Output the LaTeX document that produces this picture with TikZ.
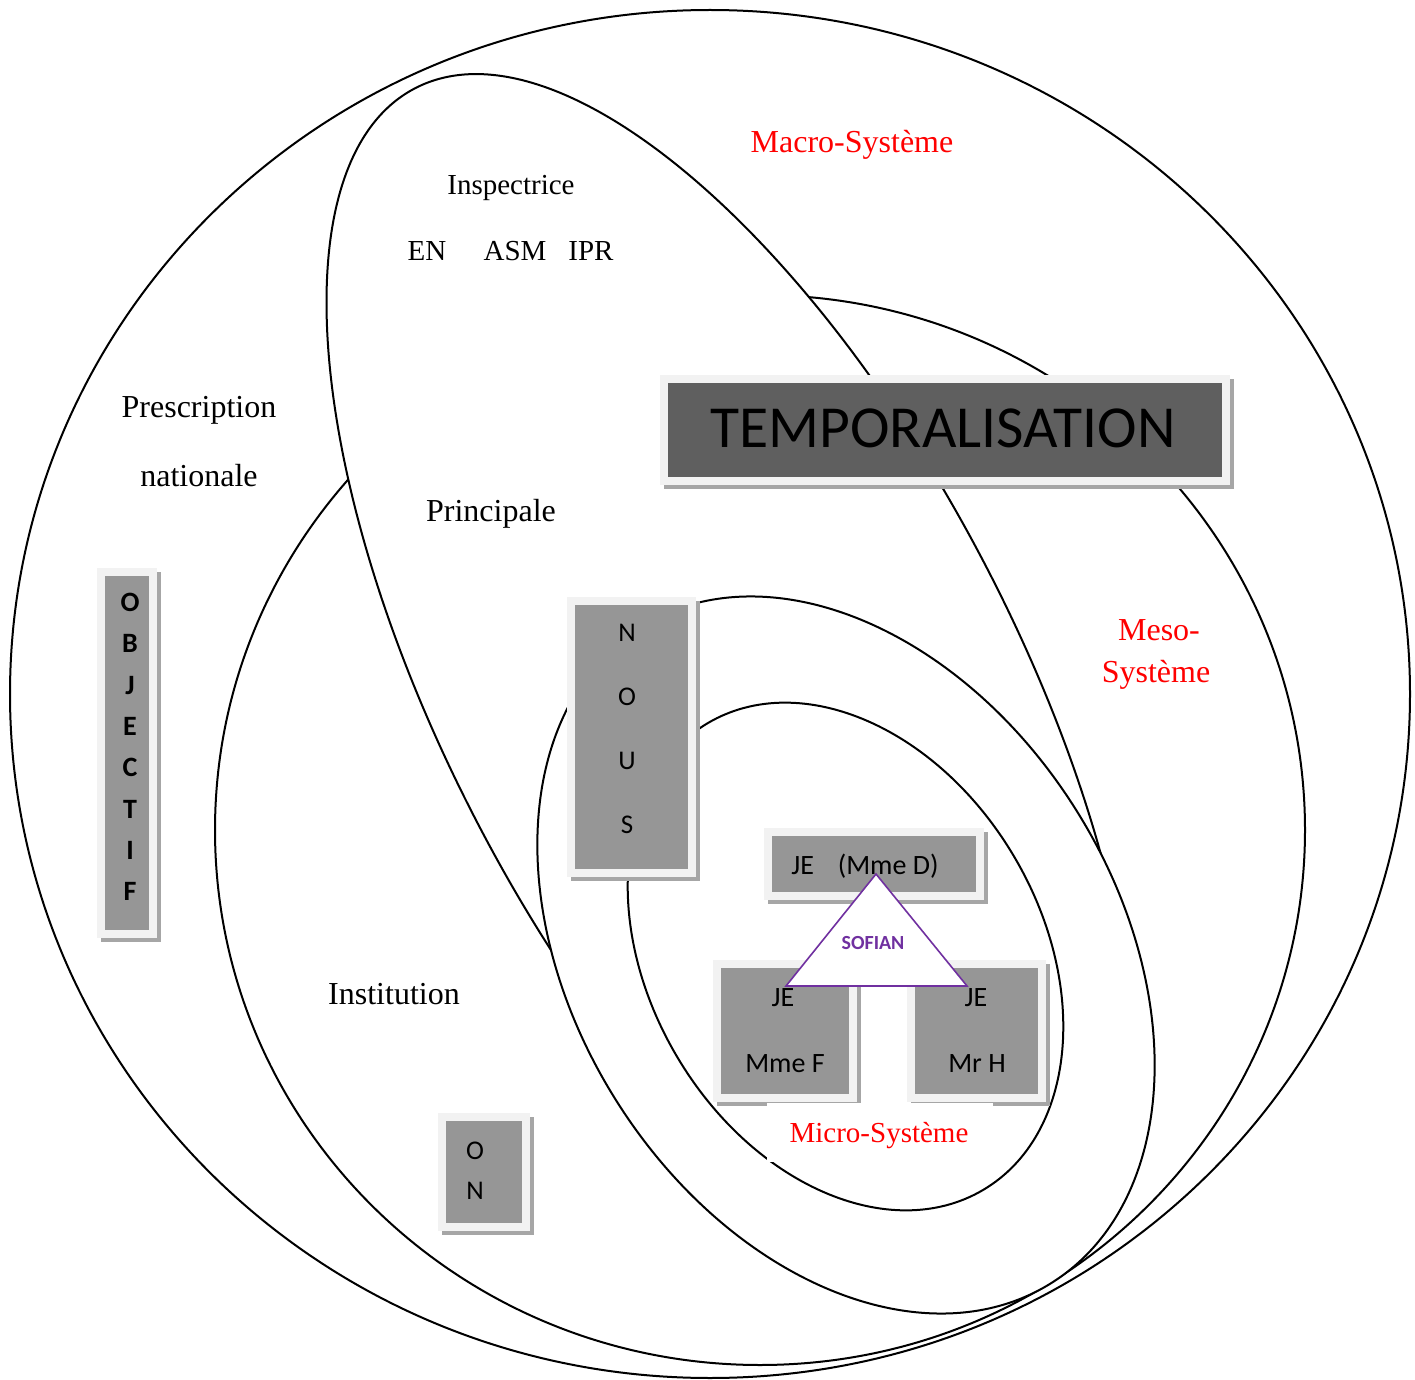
\documentclass[tikz,border=0pt]{standalone}
\usepackage{fontspec}
\setmainfont{Liberation Serif}
\newfontfamily\calfont{Carlito}
\definecolor{boxgray}{HTML}{969696}
\definecolor{darkbox}{HTML}{5F5F5F}
\definecolor{framegray}{HTML}{F2F2F2}
\definecolor{shadowgray}{HTML}{A6A6A6}
\definecolor{sofpurple}{HTML}{7030A0}
\definecolor{lblred}{HTML}{FF0000}
\begin{document}
\begin{tikzpicture}[x=0.5pt,y=-0.5pt,
  ring/.style={draw=black, line width=1pt, fill=white},
  panel/.style={rectangle, draw=framegray, line width=4pt, fill=boxgray, inner sep=0pt, outer sep=0pt,
    preaction={draw=shadowgray, fill=shadowgray, line width=4pt, transform canvas={shift={(2pt,-2.2pt)}}}},
  serif/.style={anchor=base, inner sep=0pt, font=\fontsize{#1}{#1}\selectfont},
  redlbl/.style={serif=#1, text=lblred},
  sans/.style={anchor=base, inner sep=0pt, font=\calfont\fontsize{#1}{#1}\selectfont},
  sansb/.style={anchor=base, inner sep=0pt, font=\calfont\bfseries\fontsize{#1}{#1}\selectfont}
]
\useasboundingbox (0,0) rectangle (1415,1380);

% Macro-systeme (outer)
\path[ring] (710,694) ellipse [x radius=700, y radius=684];
% Institution
\path[ring] (760,830) ellipse [x radius=545, y radius=535];
% Inspectrice / Principale (tilted; its lower end lies behind the meso ellipse)
\begin{scope}
  \clip (0,0) -- (1415,0) -- (1415,835) -- (1105,860) -- (560,975) -- (0,975) -- cycle;
  \path[ring, shift={(731.4,694)}, rotate=-62.4] (0,0) ellipse [x radius=683.4, y radius=284.8];
\end{scope}
% Meso ellipse
\path[ring, shift={(846,955)}, rotate=-58] (0,0) ellipse [x radius=387, y radius=272];
% Micro ellipse
\path[ring, shift={(845.5,956.5)}, rotate=-59.5] (0,0) ellipse [x radius=271, y radius=196];

% boxes
\node[panel, fill=darkbox, minimum width=281pt, minimum height=51pt] (tempbox) at (945,430) {};
\node[panel, minimum width=60.5pt, minimum height=136pt] (nousbox) at (631.5,737) {};
\node[panel, minimum width=26pt, minimum height=181pt] (objbox) at (126.5,753) {};
\node[panel, minimum width=42pt, minimum height=55.25pt] (onbox) at (484,1171.75) {};
\node[panel, minimum width=105.75pt, minimum height=32pt] (mmedbox) at (873.75,864) {};
\node[panel, minimum width=67.75pt, minimum height=67pt] (mmefbox) at (784.75,1031) {};
\node[panel, minimum width=65.5pt, minimum height=67pt] (mrhbox) at (976,1031) {};

% box texts
\node[sans=29.8] (temp) at (943,448) {TEMPORALISATION};
\foreach \l/\y [count=\i] in {N/641,O/705,U/769,S/833}
  \node[sans=13.5] (nous\i) at (627,\y) {\l};
\foreach \l [count=\i] in {O,B,J,E,C,T,I,F}
  \node[sansb=14] (obj\i) at (130,{611.5+(\i-1)*41.3}) {\l};
\node[sans=13.5] (on1) at (475,1159) {O};
\node[sans=13.5] (on2) at (475,1199) {N};
\node[sans=14] (mmed) at (865,874) {JE\hspace{0.85em}(Mme D)};
\node[sans=14] (je1) at (783,1006) {JE};
\node[sans=14] (mmef) at (785,1072) {Mme F};
\node[sans=14] (je2) at (976,1006) {JE};
\node[sans=14] (mrh) at (977,1072) {Mr H};

% SOFIAN triangle
\coordinate (triA) at (876,874);
\coordinate (triB) at (786,986);
\coordinate (triC) at (967,986);
\draw[sofpurple, line width=0.8pt, fill=white, line join=miter] (triA) -- (triB) -- (triC) -- cycle;
\node[sansb=10, text=sofpurple] (sofian) at (873,949.5) {SOFIAN};

% labels
\node[fill=white, inner sep=0pt, minimum width=113pt, minimum height=29.5pt] (microbg) at (880,1132.5) {};
\node[redlbl=14.5] (micro) at (879,1142) {Micro-Système};
\node[redlbl=16] (macro) at (852,153) {Macro-Système};
\node[redlbl=16] (meso1) at (1159,640) {Meso-};
\node[redlbl=16] (meso2) at (1156,682) {Système};
\node[serif=14.5] (insp) at (511,195) {Inspectrice};
\node[serif=14.5] (en) at (427,261) {EN};
\node[serif=14.5] (asm) at (515,261) {ASM};
\node[serif=14.5] (ipr) at (591,261) {IPR};
\node[serif=16] (presc) at (199,418) {Prescription};
\node[serif=16] (natio) at (199,487) {nationale};
\node[serif=16] (princ) at (491,521) {Principale};
\node[serif=16] (instit) at (394,1004) {Institution};
\end{tikzpicture}
\end{document}
